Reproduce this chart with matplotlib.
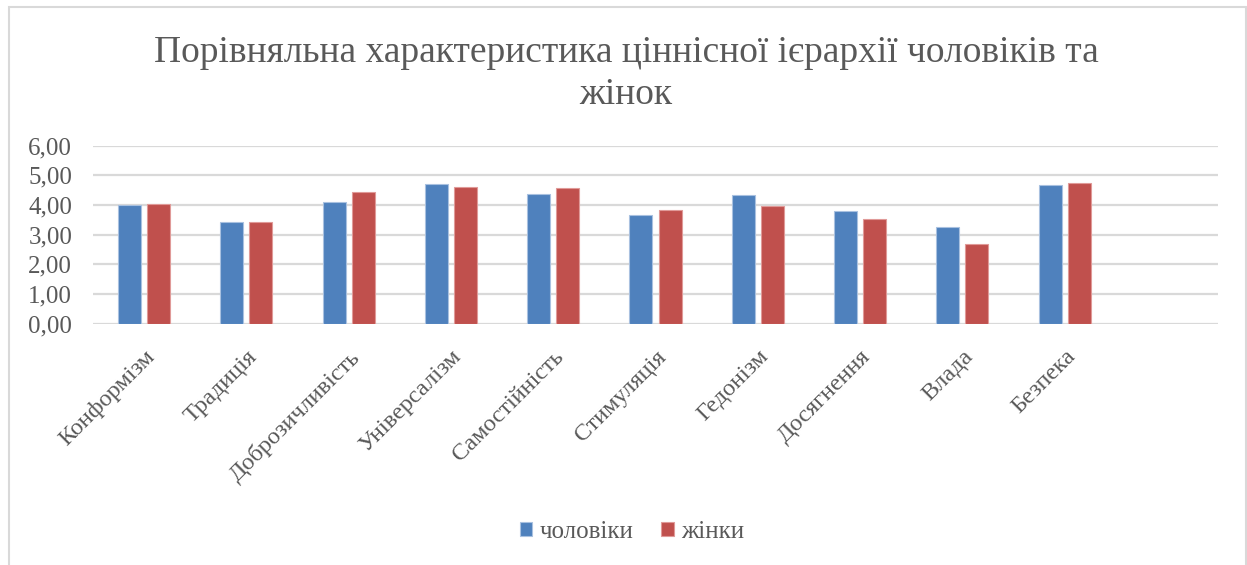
import matplotlib.pyplot as plt
import numpy as np
from matplotlib.patches import Rectangle
from matplotlib.transforms import ScaledTranslation

categories = ["Конформізм", "Традиція", "Доброзичливість", "Універсалізм",
              "Самостійність", "Стимуляція", "Гедонізм", "Досягнення",
              "Влада", "Безпека", ""]
men = [4.01, 3.41, 4.10, 4.70, 4.36, 3.65, 4.33, 3.78, 3.26, 4.66]
women = [4.03, 3.43, 4.44, 4.62, 4.58, 3.83, 3.96, 3.52, 2.69, 4.75]
yticks = [0, 1, 2, 3, 4, 5, 6]
ytick_labels = ["0,00", "1,00", "2,00", "3,00", "4,00", "5,00", "6,00"]

blue = "#4F81BD"
red = "#C0504D"
grey_text = "#595959"
serif = ["Liberation Serif", "DejaVu Serif"]

plt.rcParams['font.family'] = serif

fig = plt.figure(figsize=(12.47, 5.65), dpi=100)
ax = fig.add_axes([93/1247, 1 - 323.5/565, (1218-93)/1247, (323.5-145.7)/565])

x = np.arange(len(men))
w = 0.225
off = 0.142
ax.bar(x - off, men, w, color=blue, edgecolor="#a9c1e0", linewidth=0.8, label="чоловіки", zorder=3)
ax.bar(x + off, women, w, color=red, edgecolor="#e09a98", linewidth=0.8, label="жінки", zorder=3)

ax.set_xlim(-0.5, len(categories) - 0.5)
ax.set_ylim(0, 6)
ax.set_yticks(yticks)
ax.set_yticklabels(ytick_labels, fontsize=18, color=grey_text)
ax.set_xticks(np.arange(len(categories)))
ax.set_xticklabels(categories, rotation=45, ha="right", rotation_mode="anchor",
                   fontsize=17.5, color=grey_text)
ax.tick_params(axis="both", length=0)
ax.tick_params(axis="y", pad=15)
ax.tick_params(axis="x", pad=12)
shift = ScaledTranslation(0.0, -0.06, fig.dpi_scale_trans)
for lab in ax.get_xticklabels():
    lab.set_transform(lab.get_transform() + shift)
ax.grid(axis="y", color="#d9d9d9", linewidth=1.6, zorder=0)
for s in ax.spines.values():
    s.set_visible(False)

fig.text(0.502, 1 - 35/565, "Порівняльна характеристика ціннісної ієрархії чоловіків та\nжінок",
         ha="center", va="top", fontsize=27, color=grey_text, linespacing=1.32)

leg = fig.legend(loc="center", bbox_to_anchor=(632/1247, 1 - 532/565), ncol=2,
                 frameon=False, fontsize=18, handlelength=0.5, handleheight=0.5,
                 handletextpad=0.3, columnspacing=1.1)
for t in leg.get_texts():
    t.set_color(grey_text)

fig.patches.append(Rectangle((9/1247, -0.1), (1246-9)/1247, 1.1 - 7/565, transform=fig.transFigure,
                             fill=False, edgecolor="#d9d9d9", linewidth=1.5))

fig.savefig("out.png", dpi=100, facecolor="white")
